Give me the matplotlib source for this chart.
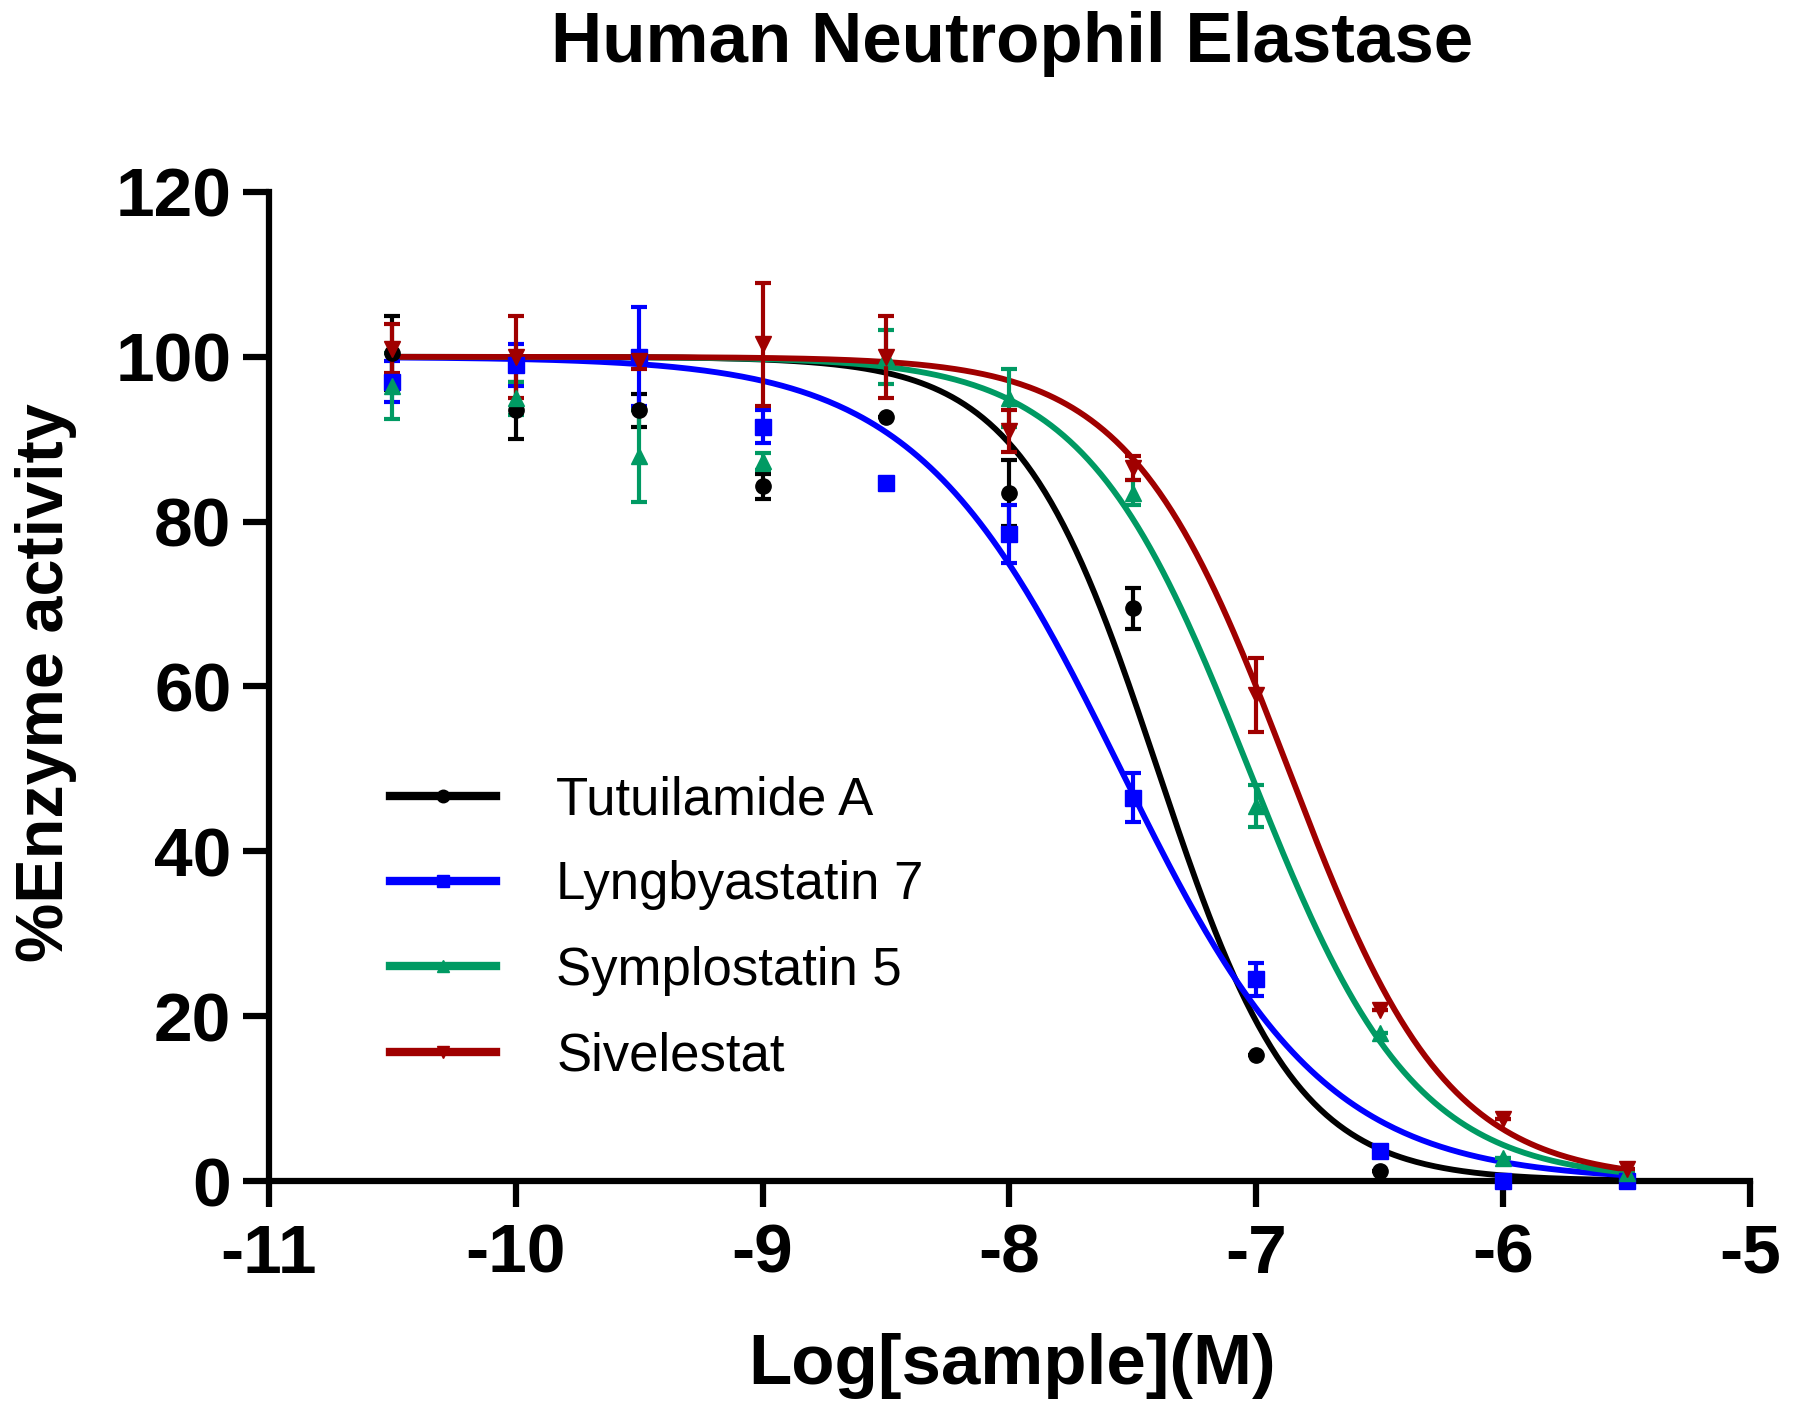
import numpy as np
import matplotlib
matplotlib.use("Agg")
import matplotlib.pyplot as plt
from matplotlib.lines import Line2D

# ---------------- data ----------------
log_conc = [-10.5, -10.0, -9.5, -9.0, -8.5, -8.0, -7.5, -7.0, -6.5, -6.0, -5.5]

tutuilamide_mean = [100.5, 93.5, 93.5, 84.3, 92.7, 83.5, 69.5, 15.3, 1.2, 0.0, 0.0]
tutuilamide_err  = [4.5, 3.5, 2.0, 1.5, 0.0, 4.0, 2.5, 0.0, 0.0, 0.0, 0.0]

lyngbyastatin_mean = [97.0, 99.0, 100.0, 91.5, 84.7, 78.5, 46.5, 24.5, 3.7, 0.0, 0.0]
lyngbyastatin_err  = [2.5, 2.5, 6.0, 2.0, 0.0, 3.5, 3.0, 2.0, 0.0, 0.0, 0.0]

symplostatin_mean = [96.5, 95.0, 88.0, 87.3, 100.0, 95.0, 83.5, 45.5, 18.0, 2.8, 1.0]
symplostatin_err  = [4.0, 2.0, 5.6, 1.0, 3.3, 3.5, 1.5, 2.5, 0.0, 0.0, 0.0]

sivelestat_mean = [101.0, 100.0, 99.5, 101.5, 100.0, 91.0, 86.5, 59.0, 20.8, 7.5, 1.5]
sivelestat_err  = [3.0, 5.0, 1.0, 7.5, 5.0, 2.5, 1.5, 4.5, 0.0, 0.0, 0.0]

# fitted dose-response parameters: (logIC50, Hill slope)
fit_logic50 = [-7.40, -7.55, -7.03, -6.87]
fit_hill    = [1.55, 1.05, 1.3, 1.35]

series_names = ["Tutuilamide A", "Lyngbyastatin 7", "Symplostatin 5", "Sivelestat"]
series_colors = ["#000000", "#0000FF", "#009A63", "#A00000"]
series_markers = ["o", "s", "^", "v"]
series_msize = [11, 11, 12, 12]

x_ticks = [-11, -10, -9, -8, -7, -6, -5]
y_ticks = [0, 20, 40, 60, 80, 100, 120]

means = [tutuilamide_mean, lyngbyastatin_mean, symplostatin_mean, sivelestat_mean]
errs = [tutuilamide_err, lyngbyastatin_err, symplostatin_err, sivelestat_err]

# ---------------- figure ----------------
plt.rcParams['font.family'] = ['Liberation Sans', 'DejaVu Sans']
fig = plt.figure(figsize=(18, 14.2), dpi=100)
ax = fig.add_axes([0.1494, 0.1683, 0.8228, 0.6965])

xs = np.linspace(min(log_conc), max(log_conc), 400)
for m, e, c, mk, ms, ic, h, nm in zip(means, errs, series_colors, series_markers,
                                      series_msize, fit_logic50, fit_hill, series_names):
    curve = 100.0 / (1.0 + 10 ** ((xs - ic) * h))
    ax.plot(xs, curve, color=c, lw=4.2, zorder=3, solid_capstyle='butt')
    ax.errorbar(log_conc, m, yerr=e, fmt=mk, color=c, ms=ms, elinewidth=3,
                capsize=6, capthick=3, zorder=4, clip_on=False)

ax.set_xlim(-11, -5)
ax.set_ylim(0, 120)
ax.set_xticks(x_ticks)
ax.set_yticks(y_ticks)
ax.set_xticklabels([str(t) for t in x_ticks])
ax.set_yticklabels([str(t) for t in y_ticks])

for side in ['top', 'right']:
    ax.spines[side].set_visible(False)
for side in ['left', 'bottom']:
    ax.spines[side].set_linewidth(4.5)
    ax.spines[side].set_zorder(2)

ax.tick_params(axis='both', which='major', length=19, width=4.5, direction='out',
               labelsize=50)
ax.tick_params(axis='x', pad=11)
ax.tick_params(axis='y', pad=8)
for lab in ax.get_xticklabels() + ax.get_yticklabels():
    lab.set_fontweight('bold')

# legend
handles = [Line2D([0], [0], color=c, lw=6, marker=mk, ms=9)
           for c, mk in zip(series_colors, series_markers)]
leg = ax.legend(handles, series_names, loc='upper left',
                bbox_to_anchor=(390 / 1800, 1 - 775 / 1420),
                bbox_transform=fig.transFigure, frameon=False, fontsize=38,
                handlelength=2.0, handletextpad=1.15, labelspacing=0.67,
                borderpad=0, borderaxespad=0)

fig.text(0.5625, 0.969, "Human Neutrophil Elastase", ha='center', va='center',
         fontsize=51, fontweight='bold')
fig.text(0.5625, 0.038, "Log[sample](M)", ha='center', va='center',
         fontsize=51, fontweight='bold')
fig.text(0.0255, 0.519, "%Enzyme activity", ha='center', va='center',
         rotation=90, fontsize=48, fontweight='bold')

fig.savefig("out.png", dpi=100)
